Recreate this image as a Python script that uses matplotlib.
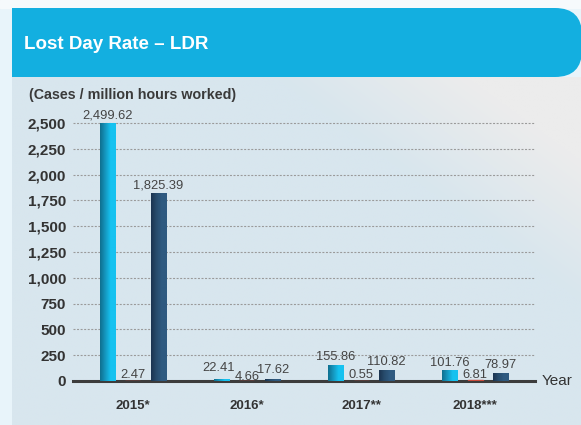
import numpy as np
import matplotlib
matplotlib.use("Agg")
from matplotlib import pyplot as plt
from matplotlib.patches import FancyBboxPatch, Rectangle
from matplotlib.colors import LinearSegmentedColormap, to_rgb

plt.rcParams['font.family'] = ['Liberation Sans', 'DejaVu Sans']

# LDR by year, three series per year
years = ["2015*", "2016*", "2017**", "2018***"]
series_a = [2499.62, 22.41, 155.86, 101.76]
series_b = [2.47, 4.66, 0.55, 6.81]
series_c = [1825.39, 17.62, 110.82, 78.97]
yticks = [0, 250, 500, 750, 1000, 1250, 1500, 1750, 2000, 2250, 2500]

W, H = 581, 425
fig = plt.figure(figsize=(W / 100, H / 100), dpi=100)

# backdrop in pixel coordinates
bg = fig.add_axes([0, 0, 1, 1])
bg.set_xlim(0, W)
bg.set_ylim(H, 0)
bg.axis("off")
bg.add_patch(Rectangle((0, 0), W, H, color="#e8f4fa", zorder=0))
bg.add_patch(Rectangle((0, 0), W, 8, color="#f6fafc", zorder=0))
yy, xx = np.mgrid[0:1:200j, 0:1:300j]
w = np.clip(3.0 * xx - 2.5 * yy - 1.4, 0, 1)[..., None]
blue = np.array(to_rgb("#d8e6ee"))
grey = np.array(to_rgb("#ececec"))
img = blue * (1 - w) + grey * w
bg.imshow(img, extent=(12, W, H, 77), aspect="auto", zorder=1, interpolation="bilinear")
bg.add_patch(FancyBboxPatch((12, 8), W - 12 + 1, 69,
                            boxstyle="round,pad=0,rounding_size=27",
                            fc="#13afe0", ec="none", zorder=2))
bg.add_patch(Rectangle((12, 8), 60, 69, fc="#13afe0", ec="none", zorder=2))
bg.text(24, 44, "Lost Day Rate \u2013 LDR", color="white", fontsize=13.5,
        fontweight="bold", va="center", ha="left", zorder=3)
bg.text(29, 95, "(Cases / million hours worked)", color="#3a3a3a", fontsize=10.3,
        fontweight="bold", va="center", ha="left", zorder=3)
bg.text(542, 381, "Year", color="#333333", fontsize=11, va="center", ha="left", zorder=3)

ax = fig.add_axes([73 / W, 44 / H, (535 - 73) / W, (381 - 123) / H])
ax.patch.set_alpha(0)
for s in ax.spines.values():
    s.set_visible(False)

x = np.arange(len(years))
off = 0.2237
bw = 0.1316

cm_a = LinearSegmentedColormap.from_list("a", ["#0f6f8f", "#1597bf", "#16c2f0", "#16c2f0"])
cm_c = LinearSegmentedColormap.from_list("c", ["#1b3450", "#274b6c", "#2f5a80", "#2f5a80"])
grad = np.linspace(0, 1, 64)[None, :]

def shaded_bars(xs, vals, cmap):
    bars = ax.bar(xs, vals, width=bw, color="none", edgecolor="none", zorder=3)
    for b in bars:
        x0, y0 = b.get_x(), b.get_y()
        im = ax.imshow(grad, cmap=cmap, extent=(x0, x0 + b.get_width(), y0, y0 + b.get_height()),
                       aspect="auto", zorder=3, interpolation="bilinear")
        im.set_clip_path(b)
    return bars

bars_a = shaded_bars(x - off, series_a, cm_a)
bars_b = ax.bar(x, series_b, width=bw, color="#c94b3c", edgecolor="#c94b3c", linewidth=1.0, zorder=3)
bars_c = shaded_bars(x + off, series_c, cm_c)

# label offsets in pixels (dx, dy above bar top); the crowded 2016 group is spread out
px = 0.72
nudge = {(0, 1): (-3, 8), (1, 1): (0, 0.5), (2, 1): (1, 6)}
for k, (bars, vals) in enumerate([(bars_a, series_a), (bars_b, series_b), (bars_c, series_c)]):
    for i, (b, v) in enumerate(zip(bars, vals)):
        dx, dy = nudge.get((k, i), (0, 2.5 if k == 1 else 4.5))
        ax.annotate(f"{v:,.2f}", (b.get_x() + b.get_width() / 2, v),
                    xytext=(dx * px, dy * px), textcoords="offset points",
                    ha="center", va="baseline",
                    fontsize=9.3, color="#444444", zorder=4, annotation_clip=False)

for t in yticks[1:]:
    ax.axhline(t, color="#9a9a9a", lw=0.8, ls=(0, (1.8, 1.4)), zorder=1, clip_on=False)
ax.axhline(0, color="#3c3c3c", lw=2.2, zorder=2, clip_on=False)

ax.set_xlim(-0.526, 3.526)
ax.set_ylim(0, 2500)
ax.set_yticks(yticks)
ax.set_yticklabels([f"{t:,}" for t in yticks])
ax.set_xticks(x)
ax.set_xticklabels(years)
ax.tick_params(axis="y", length=0, pad=5, labelsize=11, labelcolor="#333333")
ax.tick_params(axis="x", length=0, pad=14, labelsize=9.5, labelcolor="#333333")
for lab in ax.get_yticklabels() + ax.get_xticklabels():
    lab.set_fontweight("bold")

fig.savefig("out.png", dpi=100)
